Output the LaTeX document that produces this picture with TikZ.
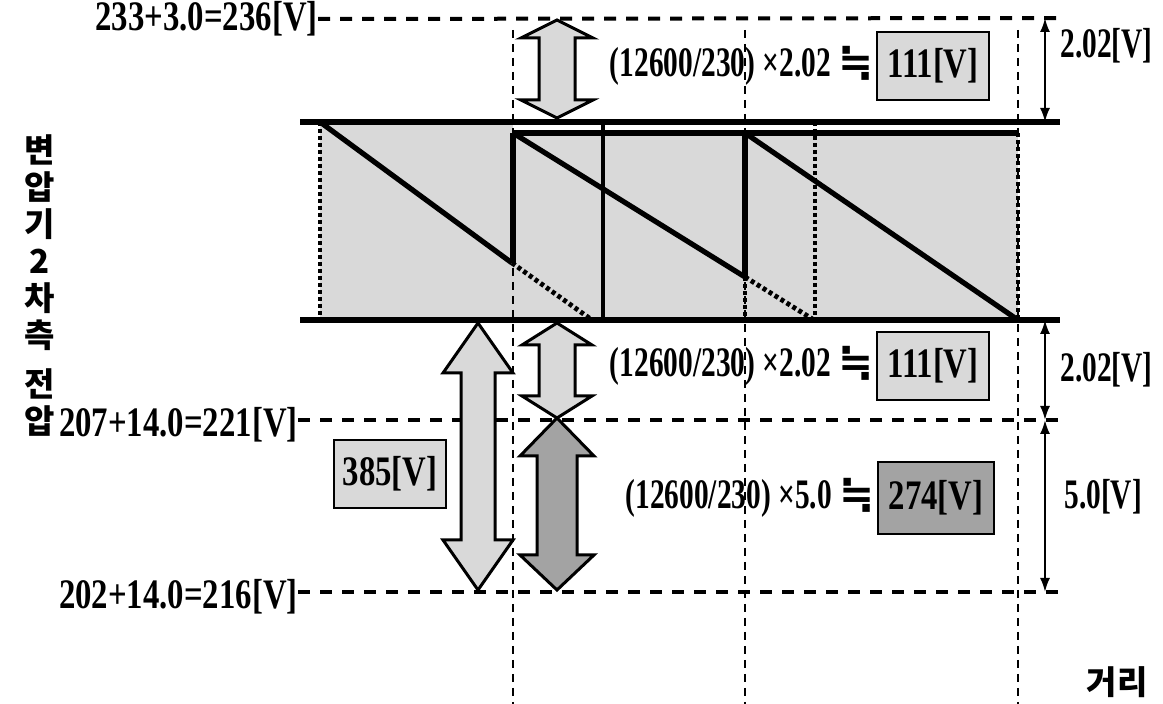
\documentclass[tikz,border=0pt]{standalone}
\usepackage{fontspec}
\usepackage{tikz}
\usepackage{xcolor}
\usetikzlibrary{arrows.meta}
\setmainfont{Liberation Serif}
\newfontfamily\cond[FakeStretch=0.78]{Liberation Serif}
\newfontfamily\condd[FakeStretch=0.70]{Liberation Serif}
\newfontfamily\symf{DejaVu Sans}
\newfontfamily\krfont{Noto Sans CJK KR}
\definecolor{fundo}{gray}{0.85}
\definecolor{escuro}{gray}{0.64}

\begin{document}
\begin{tikzpicture}[x=0.5pt, y=-0.5pt,
  lbl/.style={font=\cond\bfseries\fontsize{21}{22}\selectfont, inner sep=0pt},
  flbl/.style={font=\condd\bfseries\fontsize{21}{22}\selectfont, inner sep=0pt},
  vbox/.style={draw, line width=1.2pt, minimum width=56pt, minimum height=34pt, inner sep=1pt,
    font=\cond\bfseries\fontsize{21}{22}\selectfont},
  kr/.style={font=\krfont\bfseries\fontsize{16.5}{18.5}\selectfont, inner sep=0pt},
  grosso/.style={line width=2.6pt},
  tracejado/.style={line width=2pt, dash pattern=on 6pt off 5pt},
  guia/.style={line width=1.3pt, dash pattern=on 4pt off 3pt},
  pontilhado/.style={line width=2.4pt, dash pattern=on 2pt off 1.5pt},
  cota/.style={line width=1pt, {Latex[length=7pt,width=5pt]}-{Latex[length=7pt,width=5pt]}}]
\useasboundingbox (0,0) rectangle (1163,704);

% Faixa de tensao
\fill[fundo] (320,122) rectangle (513,320);
\fill[fundo] (513,133) rectangle (1018,320);

% Niveis de tensao
\node[lbl, anchor=east] (v236) at (318,19) {233+3.0=236[V]};
\node[lbl, anchor=east] (v221) at (298,425) {207+14.0=221[V]};
\node[lbl, anchor=east] (v216) at (298,597) {202+14.0=216[V]};
\draw[tracejado] (v236.east) -- (1065,18);
\draw[tracejado] (v221.east |- 0,420) -- (1065,420);
\draw[tracejado] (v216.east |- 0,592) -- (1065,592);

% Linhas guia
\foreach \x in {513,745,1018}
  \draw[guia] (\x,30) -- (\x,704);

\draw[grosso] (300,122) -- (1060,122);
\draw[grosso] (513,133) -- (1018,133);
\draw[grosso] (300,320) -- (1060,320);

\draw[pontilhado] (320,122) -- (320,320);
\draw[grosso] (513,133) -- (513,263);
\draw[line width=2pt] (603,122) -- (603,320);
\draw[grosso] (745,133) -- (745,277);
\draw[pontilhado] (745,277) -- (745,320);
\draw[pontilhado] (815,122) -- (815,320);
\draw[pontilhado] (1018,133) -- (1018,320);

% Queda de tensao
\draw[grosso] (320,122) -- (512,263);
\draw[pontilhado] (512,263) -- (592,320);
\draw[grosso] (513,133) -- (745,277);
\draw[pontilhado] (745,277) -- (814,320);
\draw[grosso] (745,133) -- (1018,320);

% Setas largas
\foreach \cx/\ya/\yb/\s/\h/\la/\lb/\cor in {557/20/118/18/36/18/18/fundo,
    557/323/418/18/35/22/22/fundo, 557/418/590/20/37/38/35/escuro,
    478/323/590/17/35/50/50/fundo}
  \filldraw[fill=\cor, line width=1.5pt, line join=miter]
    (\cx,\ya) -- ({\cx+\h},{\ya+\la}) -- ({\cx+\s},{\ya+\la}) -- ({\cx+\s},{\yb-\lb})
    -- ({\cx+\h},{\yb-\lb}) -- (\cx,\yb) -- ({\cx-\h},{\yb-\lb}) -- ({\cx-\s},{\yb-\lb})
    -- ({\cx-\s},{\ya+\la}) -- ({\cx-\h},{\ya+\la}) -- cycle;

% Valores
\node[vbox, fill=fundo] (b111a) at (933,66) {111[V]};
\node[flbl, anchor=east] (f111a) at ([xshift=-1pt]b111a.west) {(12600/230) ×2.02 {\symf\bfseries ≒}};
\node[vbox, fill=fundo] (b111b) at (933,366) {111[V]};
\node[flbl, anchor=east] (f111b) at ([xshift=-1pt]b111b.west) {(12600/230) ×2.02 {\symf\bfseries ≒}};
\node[vbox, fill=escuro, minimum width=58pt, minimum height=36pt] (b274) at (936,498) {274[V]};
\node[flbl, anchor=east] (f274) at ([xshift=-1pt]b274.west) {(12600/230) ×5.0 {\symf\bfseries ≒}};
\node[vbox, fill=fundo] (b385) at (390,474) {385[V]};

% Cotas
\coordinate (c1) at (1045,18);
\coordinate (c2) at (1045,122);
\coordinate (c3) at (1045,320);
\coordinate (c4) at (1045,420);
\coordinate (c5) at (1045,592);
\draw[cota] (c1) -- (c2);
\draw[cota] (c3) -- (c4);
\draw[cota] (c4) -- (c5);
\node[flbl, anchor=west] (d1) at (1060,46) {2.02[V]};
\node[flbl, anchor=west] (d2) at (1060,370) {2.02[V]};
\node[flbl, anchor=west] (d3) at (1064,497) {5.0[V]};

% Eixos
\node[kr, align=center] (eixoy) at (40,286) {변\\압\\기\\2\\차\\측\\[6pt]전\\압};
\node[kr] (eixox) at (1117,682) {거리};
\end{tikzpicture}
\end{document}
